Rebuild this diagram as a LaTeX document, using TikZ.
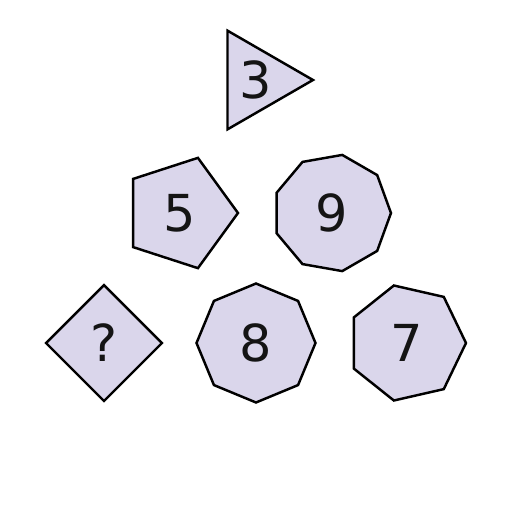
\documentclass[tikz,border=0pt]{standalone}
\usepackage{fontspec}
\setmainfont{DejaVu Sans}
\usetikzlibrary{shapes.geometric}
\definecolor{lav}{RGB}{218,214,235}
\definecolor{ink}{RGB}{20,20,20}
\tikzset{
  poly/.style={regular polygon, draw=black, fill=lav, line width=1.4pt,
    inner sep=0pt, outer sep=0pt, text=ink, font=\fontsize{29}{30}\selectfont},
}
\begin{document}
\begin{tikzpicture}[x=0.02cm,y=-0.02cm]
\useasboundingbox (0,0) rectangle (512,512);
\node[poly, regular polygon sides=3, shape border rotate=-90, minimum size=2.28cm] (t3) at (256,80) {3};
\node[poly, regular polygon sides=5, shape border rotate=-90, minimum size=2.32cm] (p5) at (180,213) {5};
\node[poly, regular polygon sides=9, shape border rotate=-90, minimum size=2.36cm] (n9) at (332,213) {9};
\node[poly, regular polygon sides=4, shape border rotate=45, minimum size=2.32cm] (d4) at (104,343) {?};
\node[poly, regular polygon sides=8, shape border rotate=22.5, minimum size=2.38cm] (o8) at (256,343) {8};
\node[poly, regular polygon sides=7, shape border rotate=-90, minimum size=2.36cm] (h7) at (407,343) {7};
\end{tikzpicture}
\end{document}
